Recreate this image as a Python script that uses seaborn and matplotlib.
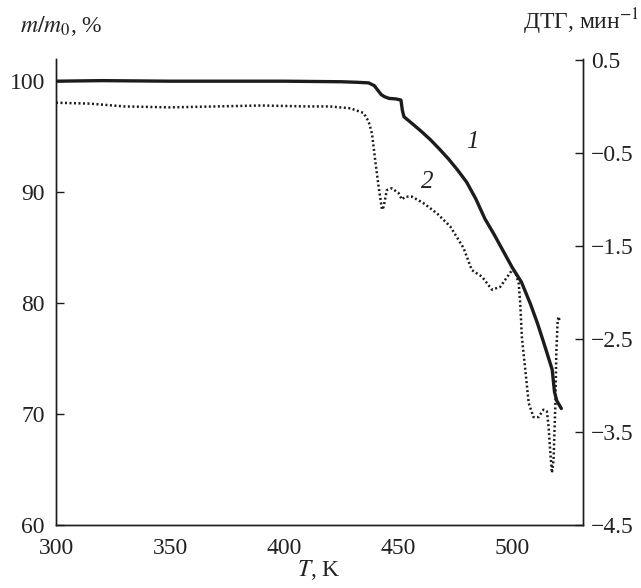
import matplotlib
matplotlib.use("Agg")
import matplotlib.pyplot as plt
import seaborn as sns
import numpy as np

# ---- data ----
T_tg = [300, 320, 350, 400, 425, 432, 437, 439.5, 441, 442.5, 444, 446, 449, 451.2,
        451.8, 452.5, 456, 460, 464, 468, 472, 476, 480, 484, 488, 492, 496, 500,
        504, 508, 511, 514, 517.5, 518.5, 519.5, 521.5]
m_tg = [100.0, 100.05, 100.0, 100.0, 99.95, 99.9, 99.85, 99.6, 99.2, 98.8, 98.6,
        98.45, 98.4, 98.3, 97.4, 96.8, 96.2, 95.5, 94.75, 93.9, 93.0, 92.0, 90.9,
        89.4, 87.6, 86.2, 84.7, 83.2, 81.9, 79.9, 78.2, 76.3, 74.0, 72.0, 71.2, 70.5]

T_dtg = [300, 315, 330, 350, 370, 390, 410, 420, 429, 434.8, 437.0, 438.5, 439.9,
         441.4, 442.9, 443.6, 445.0, 447.2, 450.1, 451.6, 453.1, 456.0, 461.1, 467.0,
         472.8, 478.6, 482.3, 486.7, 491.1, 494.7, 499.9, 501.3, 502.8, 503.5, 504.2,
         505.7, 507.2, 509.3, 511.5, 513.7, 515.2, 515.9, 516.7, 517.4, 518.1, 518.9,
         519.3, 519.9, 520.3, 520.8]
dtg = [0.04, 0.03, 0.0, -0.01, 0.0, 0.01, 0.0, 0.0, -0.02, -0.07, -0.16, -0.29, -0.575,
       -0.86, -1.11, -1.08, -0.90, -0.88, -0.93, -1.0, -0.97, -0.97, -1.04, -1.15,
       -1.29, -1.52, -1.76, -1.83, -1.97, -1.94, -1.76, -1.78, -1.90, -2.12, -2.48,
       -2.83, -3.19, -3.34, -3.34, -3.26, -3.28, -3.44, -3.73, -3.94, -3.80, -3.19,
       -2.65, -2.30, -2.26, -2.32]

x_ticks = [300, 350, 400, 450, 500]
left_ticks = [60, 70, 80, 90, 100]
right_ticks = [0.5, -0.5, -1.5, -2.5, -3.5, -4.5]
right_labels = ["0.5", "\u22120.5", "\u22121.5", "\u22122.5", "\u22123.5", "\u22124.5"]

# ---- style ----
sns.set_style("white")
plt.rcParams["font.family"] = ["Liberation Serif", "DejaVu Serif"]
plt.rcParams["mathtext.fontset"] = "stix"
FS = 17
color = "#1c1c1c"
tcolor = "#222222"

fig = plt.figure(figsize=(6.41, 5.88), dpi=100)
ax = fig.add_axes([56 / 641, 1 - 525 / 588, (583 - 56) / 641, (525 - 59) / 588])
ax2 = ax.twinx()

sns.lineplot(x=T_tg, y=m_tg, ax=ax, color=color, linewidth=2.4, sort=False,
             estimator=None)
sns.lineplot(x=T_dtg, y=dtg, ax=ax2, color=color, linewidth=1.8, sort=False,
             estimator=None)
ax2.lines[0].set_linestyle((0, (0.8, 1.0)))

ax.set_xlim(300, 531)
ax.set_ylim(60, 102)
ax2.set_ylim(-4.5, 0.51)

ax.set_xticks(x_ticks)
ax.set_xticklabels([str(v) for v in x_ticks])
ax.set_yticks(left_ticks)
ax.set_yticklabels([str(v) for v in left_ticks])
ax2.set_yticks(right_ticks)
ax2.set_yticklabels(right_labels)

for a in (ax, ax2):
    for s in a.spines.values():
        s.set_color(color)
        s.set_linewidth(1.0)
    a.spines["top"].set_visible(False)
ax.tick_params(axis="both", direction="in", length=6, width=1.0, colors=color,
               labelsize=FS, labelcolor=tcolor)
ax.tick_params(axis="x", pad=9)
ax.tick_params(axis="y", pad=8)
ax2.tick_params(axis="y", direction="in", length=6, width=1.0, colors=color,
                labelsize=FS, labelcolor=tcolor, pad=6)
ax.grid(False)
ax2.grid(False)
ax.set_xlabel("")
ax.set_ylabel("")
ax2.set_ylabel("")

fig.text(319 / 641, 1 - 570 / 588, r"$T$, K", ha="center", va="center",
         fontsize=FS, color=tcolor)
fig.text(20 / 641, 1 - 26 / 588, r"$m/m_0$, %", ha="left", va="center",
         fontsize=FS, color=tcolor)
fig.text(640 / 641, 1 - 22 / 588, "ДТГ, мин$^{\u22121}$", ha="right", va="center",
         fontsize=FS, color=tcolor)

ax.text(482.3, 94.5, "1", fontsize=FS + 1, ha="center", va="center",
        color=tcolor, fontstyle="italic")
ax.text(462.6, 90.9, "2", fontsize=FS + 1, ha="center", va="center",
        color=tcolor, fontstyle="italic")

fig.savefig("out.png", dpi=100)
